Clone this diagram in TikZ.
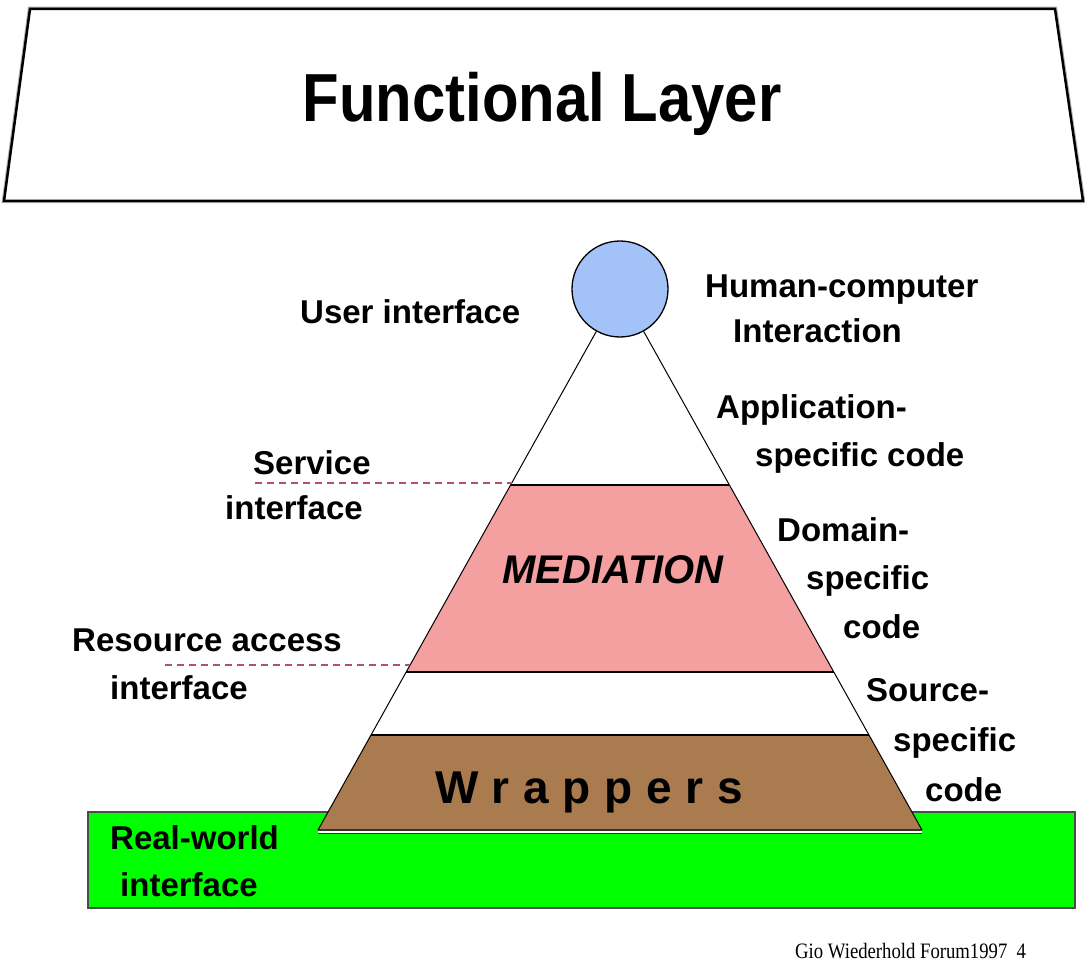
\documentclass[tikz,border=0pt]{standalone}
\usepackage{fontspec}
\setmainfont{Liberation Sans}
\newfontfamily\footfont{Liberation Serif}
\definecolor{medpink}{HTML}{F4A0A0}
\definecolor{wrapbrown}{HTML}{A97B4F}
\definecolor{realgreen}{HTML}{00FF00}
\definecolor{uiblue}{HTML}{A3C2F7}
\definecolor{dashred}{HTML}{B0506A}
\tikzset{
  lbl/.style={anchor=base west, inner sep=0pt, font=\fontsize{33}{36}\selectfont\bfseries},
  dashlink/.style={dashed, dash pattern=on 7pt off 5pt, color=dashred, line width=1.2pt},
  edge/.style={line width=1pt, black}
}
\begin{document}
\begin{tikzpicture}[x=1pt,y=-1pt]
\useasboundingbox (0,0) rectangle (1085,979);
% Functional layer trapezoid
\draw[gray!60, line width=4.5pt] (30,9) -- (1055,9) -- (1083,201) -- (4,201) -- cycle;
\draw[black, line width=2.5pt, fill=white] (30,9) -- (1055,9) -- (1083,201) -- (4,201) -- cycle;
\node (fl) at (542,104) {\fontsize{68}{72}\selectfont\bfseries\scalebox{0.88}[1]{Functional Layer}};
% Real-world green base
\draw[fill=realgreen, draw=black!70, line width=1.2pt] (88,812) rectangle (1075,908);
% coordinates of the pyramid
\coordinate (mtl) at (510.6,485);
\coordinate (mtr) at (729.4,485);
\coordinate (mbl) at (406.2,672);
\coordinate (mbr) at (833.8,672);
\coordinate (wtl) at (371,735);
\coordinate (wtr) at (869,735);
\coordinate (wbl) at (318,830);
\coordinate (wbr) at (922,830);
% mediation layer
\fill[medpink] (mtl) -- (mtr) -- (mbr) -- (mbl) -- cycle;
\draw[edge, line width=1.6pt] (mtl) -- (mtr);
\draw[edge, line width=1.6pt] (mbl) -- (mbr);
% wrappers layer
\fill[wrapbrown] (wtl) -- (wtr) -- (wbr) -- (wbl) -- cycle;
\draw[edge, line width=1.6pt] (wtl) -- (wtr);
\draw[black!80, line width=1.5pt] (wbl) -- (wbr);
\draw[black!80, line width=1.5pt] ([yshift=-3.5pt]wbl) -- ([yshift=-3.5pt]wbr);
\draw[white, line width=1.5pt] ([yshift=-1.8pt]wbl) -- ([yshift=-1.8pt]wbr);
% user interface circle
\node[circle, draw=black, fill=uiblue, line width=1.3pt, minimum size=96pt, inner sep=0pt] (ui) at (620,289) {};
% pyramid sides
\draw[edge] (ui) -- (wbl);
\draw[edge] (ui) -- (wbr);
% dashed interface markers
\coordinate (sidash) at (255,485);
\coordinate (radash) at (165,672);
\draw[dashlink] ([yshift=2pt]sidash) -- ([yshift=2pt,xshift=1pt]mtl);
\draw[dashlink] ([yshift=7pt]radash) -- ([yshift=7pt,xshift=4pt]mbl);
% texts
\node[font=\fontsize{40}{42}\selectfont\bfseries\itshape] (med) at (613,570) {MEDIATION};
\node[lbl, font=\fontsize{46}{48}\selectfont\bfseries\addfontfeatures{LetterSpace=30}] (wrap) at (435,803) {Wrappers};
\node[lbl] (t1) at (300,323) {User interface};
\node[lbl] (t2) at (705,297) {Human-computer};
\node[lbl] (t3) at (733,342) {Interaction};
\node[lbl] (t4) at (716,418) {Application-};
\node[lbl] (t5) at (755,466) {specific code};
\node[lbl] (t6) at (253,474) {Service};
\node[lbl] (t7) at (225,519) {interface};
\node[lbl] (t8) at (777,541) {Domain-};
\node[lbl] (t9) at (806,589) {specific};
\node[lbl] (t10) at (843,638) {code};
\node[lbl] (t11) at (72,651) {Resource access};
\node[lbl] (t12) at (110,699) {interface};
\node[lbl] (t13) at (866,701) {Source-};
\node[lbl] (t14) at (893,751) {specific};
\node[lbl] (t15) at (925,801) {code};
\node[lbl] (t16) at (110,849) {Real-world};
\node[lbl] (t17) at (120,896) {interface};
\node[anchor=base west, inner sep=0pt] (foot) at (795,958) {\footfont\fontsize{22}{24}\selectfont\scalebox{0.85}[1]{Gio Wiederhold Forum1997\ \ 4}};
\end{tikzpicture}
\end{document}
